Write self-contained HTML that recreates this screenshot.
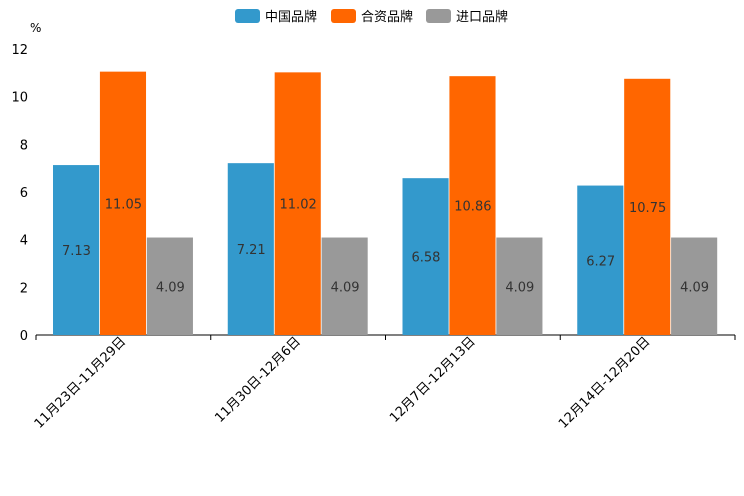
<!DOCTYPE html>
<html><head><meta charset="utf-8"><style>
body{margin:0;background:#fff;}
svg{display:block;font-family:"DejaVu Sans","Noto Sans CJK SC",sans-serif;}
</style></head><body>
<svg id="chart" width="744" height="496">
<g id="legend"></g>
<g id="axes"></g>
<g id="bars"></g>
</svg>
<script>
const categories=["11月23日-11月29日","11月30日-12月6日","12月7日-12月13日","12月14日-12月20日"];
const seriesNames=["中国品牌","合资品牌","进口品牌"];
const domestic=[7.13,7.21,6.58,6.27];
const jointVenture=[11.05,11.02,10.86,10.75];
const imported=[4.09,4.09,4.09,4.09];
const yTicks=[0,2,4,6,8,10,12];
const colors=["#3399cc","#ff6600","#999999"];
const NS="http://www.w3.org/2000/svg";
const svg=document.getElementById('chart');
const x0=36,x1=735,y0=335,yTop=49,yMax=12;
function y(v){return y0-(v/yMax)*(y0-yTop);}
const band=(x1-x0)/categories.length;
function mk(t,a,p){const e=document.createElementNS(NS,t);for(const k in a)e.setAttribute(k,a[k]);(p||svg).appendChild(e);return e;}
const axes=document.getElementById('axes');
let ax=mk('line',{x1:x0,x2:x1,y1:y0,y2:y0,stroke:'#000','stroke-width':1},axes);


yTicks.forEach(t=>{const tx=mk('text',{x:28,y:y(t)+5,'text-anchor':'end','font-size':13,fill:'#000'},axes);tx.textContent=t;

});
const unit=mk('text',{x:30,y:32,'font-size':12,fill:'#000'},axes);unit.textContent='%';


for(let i=0;i<=categories.length;i++){const xx=x0+i*band;mk('line',{x1:xx,x2:xx,y1:y0,y2:y0+5,stroke:'#000'},axes);}
categories.forEach((c,i)=>{const cx=x0+band*(i+0.5);
const t=mk('text',{x:0,y:0,'text-anchor':'end','font-size':13,fill:'#000',transform:`translate(${cx+3},${y0+7}) rotate(-45)`},axes);t.textContent=c;

});
const bars=document.getElementById('bars');
const series=[domestic,jointVenture,imported];
const pad=17,bw=(band-2*pad)/3;
series.forEach((s,si)=>{s.forEach((v,i)=>{const bx=x0+band*i+pad+si*bw;
const r=mk('rect',{x:bx,y:y(v),width:bw-0.8,height:y0-y(v),fill:colors[si]},bars);


const l=mk('text',{x:bx+bw/2,y:(y(v)+y0)/2+5,'text-anchor':'middle','font-size':13,fill:'#333'},bars);l.textContent=v.toFixed(2);

});});
const lg=document.getElementById('legend');
const lx=[235,331,426];
seriesNames.forEach((n,i)=>{const g=mk('g',{},lg);


mk('rect',{x:lx[i],y:9,width:25,height:14,rx:3,fill:colors[i]},g);
const t=mk('text',{x:lx[i]+30,y:21,'font-size':13,fill:'#000'},g);t.textContent=n;});
</script>
</body></html>
